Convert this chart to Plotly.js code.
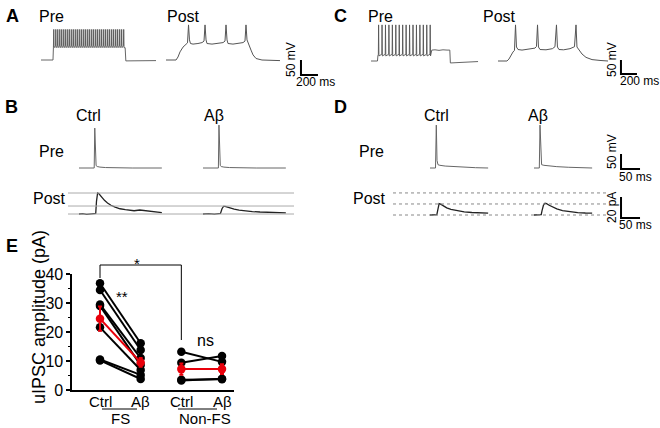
<!DOCTYPE html>
<html>
<head>
<meta charset="utf-8">
<script src="https://cdn.plot.ly/plotly-3.0.1.min.js"></script>
<style>html,body{margin:0;padding:0;background:#fff}#fig{width:660px;height:428px}</style>
</head>
<body>
<div id="fig"></div>
<script>
// ===== DATA =====
// A: FS pre cell train and post cell (ms, mV)
const aPreSpikes = [150, 174, 197, 221, 244, 268, 291, 315, 338, 362, 385, 409, 432, 456, 479, 503, 526, 550,
    573, 597, 620, 644, 667, 691, 714, 738, 761, 785, 808, 832, 855, 879, 902, 926, 949, 973];
const aPreHeadT = [0, 141, 146], aPreHeadV = [-70, -70, -29];
const aPreTailT = [990, 998, 1353], aPreTailV = [-29, -73, -72];
const aPrePeak = 32, aPreTrough = -29;
const aPostT = [0, 118, 141, 165, 200, 235, 253, 265, 276, 288, 318, 376, 424, 447, 459, 471, 482, 541, 612, 671, 694,
    706, 718, 729, 788, 859, 906, 929, 941, 953, 965, 982, 1000, 1024, 1059, 1129, 1341];
const aPostV = [-70, -70, -60, -43, -27, -18, -13, 47, -3, -15, -17, -15, -12, -7, 47, -3, -15, -17, -15, -12, -7,
    47, -3, -15, -17, -15, -12, -7, 47, -3, -13, -20, -37, -53, -65, -70, -72];

// C: non-FS pre cell train and post cell
const cPreSpikes = [95, 138, 181, 224, 267, 310, 353, 396, 439, 482, 525, 568, 611, 654, 697, 740];
const cPreHeadT = [0, 81, 86], cPreHeadV = [-70, -70, -52];
const cPreTailT = [760, 800, 850, 900, 950, 985, 992, 1100, 1338];
const cPreTailV = [-31, -30, -32, -30, -31, -31, -77, -75, -72];
const cPrePeak = 59, cPreTrough = -52;
const cPostT = [0, 112, 137, 162, 187, 206, 219, 231, 250, 300, 400, 462, 481, 494, 506, 525, 600, 680, 712, 731,
    743, 762, 820, 900, 956, 975, 987, 1012, 1050, 1100, 1175, 1275, 1375];
const cPostV = [-70, -70, -63, -49, -38, -32, 59, -20, -29, -31, -28, -24, -18, 59, -20, -29, -30, -26, -19, 59,
    -20, -29, -30, -26, -19, 59, -20, -31, -45, -57, -65, -68, -70];

// B: single spike pairs, FS (Pre mV, Post pA)
const bPreCtrlT = [0, 40, 41.5, 43, 45, 48, 55, 70, 100, 140, 218];
const bPreCtrlV = [-70, -70, 63, -40, -62, -65, -67, -68.5, -69.5, -70, -70];
const bPreAbT = [0, 40.5, 42, 43.5, 45.5, 48, 55, 70, 100, 140, 218];
const bPreAbV = [-70, -70, 73, -40, -62, -65, -67, -68.5, -69.5, -70, -70];
const bPostCtrlT = [0, 10, 20, 30, 40, 44, 46, 49, 52, 56, 61, 67, 75, 84, 95, 108, 122, 134, 145, 160, 172, 185, 200, 218];
const bPostCtrlI = [0, 0.3, -0.3, 0.2, 0, 0.5, 12, 20, 19.5, 17.5, 15.5, 13, 10.5, 8.3, 6.5, 5, 4.2, 3.4, 3.1, 3.8, 3.3, 2.5, 2, 1.3];
const bPostAbT = [0, 15, 30, 42, 46, 50, 54, 58, 64, 72, 82, 95, 110, 130, 150, 175, 200, 218];
const bPostAbI = [0, 0.3, -0.2, 0, 0.5, 5, 7.2, 7.3, 6.5, 5.6, 4.6, 3.7, 3, 2.3, 1.9, 1.5, 1.3, 1.1];
const bLevels = [0, 7.6, 20];

// D: single spike pairs, non-FS
const dPreCtrlT = [0, 14.5, 16.6, 18.5, 21, 26, 40, 60, 90, 120, 153];
const dPreCtrlV = [-70, -70, 73, -45, -59, -61, -63.5, -65.5, -67.5, -69, -70];
const dPreAbT = [0, 14, 15.8, 17.8, 20, 26, 40, 60, 90, 120, 153];
const dPreAbV = [-70, -70, 73, -45, -59, -61, -63.5, -65.5, -67.5, -69, -70];
const dPostCtrlT = [0, 8, 16, 18, 20, 22, 24, 28, 34, 44, 55, 70, 90, 110, 130, 153];
const dPostCtrlI = [0, 0.3, 0, 0.3, 4, 9, 10.8, 10.3, 8.8, 6.8, 5.4, 4.3, 3, 2.4, 2, 1.8];
const dPostAbT = [0, 8, 16, 19, 21, 25, 29, 33, 40, 48, 60, 75, 95, 115, 135, 153];
const dPostAbI = [0, 0.3, 0, 0.3, 4, 9.5, 11.2, 10.8, 9.3, 7.6, 5.8, 4.2, 3, 2.3, 1.9, 1.8];
const dLevels = [0, 10.5, 21];

// E: uIPSC amplitude (pA)
const groupX = [1, 2, 3, 4];
const groupTicks = ['Ctrl', 'Aβ', 'Ctrl', 'Aβ'];
const fsCtrl = [36.8, 34.5, 29.5, 29.0, 21.6, 10.5, 10.2];
const fsAb = [16.1, 13.8, 11.0, 8.6, 6.9, 5.2, 3.8];
const nonCtrl = [13.2, 9.4, 3.5, 3.3];
const nonAb = [9.7, 11.7, 3.7, 3.9];
const fsMean = [24.6, 9.5], fsSem = [4.2, 1.5];
const nonMean = [7.2, 7.2], nonSem = [1.9, 1.7];

// ===== LAYOUT HELPERS =====
const W = 660, H = 428;
const FONT = 'Liberation Sans, Arial, sans-serif';
const layout = {
    width: W, height: H, margin: {l: 0, r: 0, t: 0, b: 0},
    paper_bgcolor: '#fff', plot_bgcolor: 'rgba(0,0,0,0)',
    showlegend: false, font: {family: FONT, color: '#000'},
    shapes: [], annotations: []
};
const traces = [];

// hidden axis pair: box [l,r,t,b] px, data (t0,v0) sits at pixel (ox,oy), scale px per unit
function frame(i, box, org, sc) {
    const [l, r, t, b] = box, [ox, oy, t0, v0] = org, [sx, sy] = sc;
    const s = i === 1 ? '' : i;
    layout['xaxis' + s] = {visible: false, fixedrange: true, anchor: 'y' + s,
        domain: [l / W, r / W], range: [t0 + (l - ox) / sx, t0 + (r - ox) / sx]};
    layout['yaxis' + s] = {visible: false, fixedrange: true, anchor: 'x' + s,
        domain: [1 - b / H, 1 - t / H], range: [v0 - (b - oy) / sy, v0 + (oy - t) / sy]};
}

function line(i, x, y, color, width, dash) {
    const s = i === 1 ? '' : i;
    traces.push({x: x, y: y, xaxis: 'x' + s, yaxis: 'y' + s, mode: 'lines', hoverinfo: 'skip',
        line: {color: color, width: width, dash: dash || 'solid'}});
}

function spikeTrain(headT, headV, spikes, peak, trough, tailT, tailV) {
    const t = headT.slice(), v = headV.slice();
    spikes.forEach(s => { t.push(s - 3, s, s + 4); v.push(trough + 6, peak, trough); });
    return {t: t.concat(tailT), v: v.concat(tailV)};
}

function scaleBar(i, t, v, dt, dv) {
    line(i, [t, t, t + dt], [v + dv, v, v], '#000', 2);
}

function text(str, x, y, size, opts = {}) {
    layout.annotations.push({text: str, x: x / W, y: 1 - y / H, xref: 'paper', yref: 'paper',
        showarrow: false, xanchor: opts.anchor || 'center', yanchor: 'middle',
        textangle: opts.angle || 0, font: {family: FONT, size: size, color: '#000'}});
}

// ===== PANEL A =====
frame(1, [38, 160, 20, 72], [41, 60, 0, -70], [0.085, 0.3]);
frame(2, [160, 325, 18, 80], [166, 60, 0, -70], [0.085, 0.3]);
const aPre = spikeTrain(aPreHeadT, aPreHeadV, aPreSpikes, aPrePeak, aPreTrough, aPreTailT, aPreTailV);
line(1, aPre.t, aPre.v, '#555', 0.9);
line(2, aPostT, aPostV, '#555', 1);
scaleBar(2, 1588, -120, 200, 50);

// ===== PANEL C =====
frame(3, [368, 482, 20, 72], [371, 61, 0, -70], [0.08, 0.28]);
frame(4, [495, 645, 18, 80], [498, 61, 0, -70], [0.08, 0.28]);
const cPre = spikeTrain(cPreHeadT, cPreHeadV, cPreSpikes, cPrePeak, cPreTrough, cPreTailT, cPreTailV);
line(3, cPre.t, cPre.v, '#555', 0.9);
line(4, cPostT, cPostV, '#555', 1);
scaleBar(4, 1537, -116.4, 200, 50);

// ===== PANEL B =====
frame(5, [76, 166, 120, 172], [79, 168, 0, -70], [0.38, 0.3]);
frame(6, [200, 290, 120, 172], [203, 168, 0, -70], [0.38, 0.3]);
frame(7, [76, 166, 188, 221], [79, 214, 0, 0], [0.38, 1.05]);
frame(8, [200, 290, 188, 221], [203, 214, 0, 0], [0.38, 1.05]);
bLevels.forEach(lv => layout.shapes.push({type: 'line', xref: 'paper', yref: 'y7',
    x0: 68 / W, x1: 294 / W, y0: lv, y1: lv, line: {color: '#aaa', width: 1}}));
line(5, bPreCtrlT, bPreCtrlV, '#666', 1);
line(6, bPreAbT, bPreAbV, '#666', 1);
line(7, bPostCtrlT, bPostCtrlI, '#222', 1.3);
line(8, bPostAbT, bPostAbI, '#222', 1.3);

// ===== PANEL D =====
frame(9, [427, 492, 120, 172], [430, 168, 0, -70], [0.38, 0.3]);
frame(10, [531, 645, 120, 172], [534, 168, 0, -70], [0.38, 0.3]);
frame(11, [427, 492, 188, 221], [430, 215, 0, 0], [0.38, 1.05]);
frame(12, [531, 645, 188, 221], [534, 215, 0, 0], [0.38, 1.05]);
dLevels.forEach(lv => layout.shapes.push({type: 'line', xref: 'paper', yref: 'y11',
    x0: 393 / W, x1: 607 / W, y0: lv, y1: lv, line: {color: '#888', width: 1, dash: 'dot'}}));
line(9, dPreCtrlT, dPreCtrlV, '#666', 1);
line(10, dPreAbT, dPreAbV, '#666', 1);
line(11, dPostCtrlT, dPostCtrlI, '#222', 1.3);
line(12, dPostAbT, dPostAbI, '#222', 1.3);
scaleBar(10, 229, -73.3, 50, 50);
scaleBar(12, 229, -2.9, 50, 20);

// ===== PANEL E =====
layout.xaxis13 = {domain: [72 / W, 234 / W], range: [0.3115, 4.295], anchor: 'y13', fixedrange: true,
    showline: true, linecolor: '#000', linewidth: 1.6, ticks: '', showgrid: false, zeroline: false,
    showticklabels: false};
layout.yaxis13 = {domain: [1 - 390 / H, 1 - 274 / H], range: [0, 40], anchor: 'x13', fixedrange: true,
    showline: true, linecolor: '#000', linewidth: 1.6, ticks: 'outside', ticklen: 4, tickwidth: 1.6,
    tickcolor: '#000', dtick: 10, showgrid: false, zeroline: false,
    minor: {ticks: 'outside', ticklen: 2, tickwidth: 1, dtick: 5, tickcolor: '#000'},
    tickfont: {family: FONT, size: 16, color: '#000'}};
// category labels sit close under the axis, as in the figure
groupX.forEach((gx, k) => layout.annotations.push({text: groupTicks[k], x: gx, y: 1 - 401 / H,
    xref: 'x13', yref: 'paper', showarrow: false, yanchor: 'middle',
    font: {family: FONT, size: 15, color: '#000'}}));

function pairs(xs, a, b) {
    const x = [], y = [];
    a.forEach((v, k) => { x.push(xs[0], xs[1], null); y.push(v, b[k], null); });
    return {x: x, y: y};
}
[pairs(groupX.slice(0, 2), fsCtrl, fsAb), pairs(groupX.slice(2), nonCtrl, nonAb)].forEach(p => {
    traces.push({x: p.x, y: p.y, xaxis: 'x13', yaxis: 'y13', mode: 'lines+markers', hoverinfo: 'skip',
        cliponaxis: false, line: {color: '#000', width: 2}, marker: {color: '#000', size: 8.5}});
});
[[groupX.slice(0, 2), fsMean, fsSem], [groupX.slice(2), nonMean, nonSem]].forEach(([x, m, s]) => {
    traces.push({x: x, y: m, xaxis: 'x13', yaxis: 'y13', mode: 'lines+markers', hoverinfo: 'skip',
        cliponaxis: false, line: {color: '#e8000b', width: 2}, marker: {color: '#e8000b', size: 8.5},
        error_y: {type: 'data', array: s, color: '#e8000b', thickness: 2, width: 2}});
});

// significance bracket and group underlines
const ink = {color: '#000', width: 1};
layout.shapes.push(
    {type: 'line', xref: 'x13', yref: 'paper', x0: 1, x1: 1, y0: 1 - 265 / H, y1: 1 - 278 / H, line: ink},
    {type: 'line', xref: 'x13', yref: 'paper', x0: 1, x1: 3, y0: 1 - 265 / H, y1: 1 - 265 / H, line: ink},
    {type: 'line', xref: 'x13', yref: 'paper', x0: 3, x1: 3, y0: 1 - 265 / H, y1: 1 - 340 / H, line: ink},
    {type: 'line', xref: 'paper', yref: 'paper', x0: 102 / W, x1: 137 / W, y0: 1 - 409 / H, y1: 1 - 409 / H, line: ink},
    {type: 'line', xref: 'paper', yref: 'paper', x0: 178 / W, x1: 217 / W, y0: 1 - 409 / H, y1: 1 - 409 / H, line: ink}
);

// ===== TEXT =====
const bold = s => '<b>' + s + '</b>';
text(bold('A'), 12, 16, 18); text(bold('C'), 340, 16, 18);
text(bold('B'), 11, 107, 18); text(bold('D'), 340, 107, 18);
text(bold('E'), 12, 246, 18);
text('Pre', 52, 16, 16); text('Post', 183, 16, 16);
text('Pre', 380, 16, 16); text('Post', 499, 16, 16);
text('Ctrl', 88, 115, 16); text('Aβ', 214, 115, 16);
text('Pre', 52, 151, 16); text('Post', 49, 198, 16);
text('Ctrl', 436, 115, 16); text('Aβ', 538, 115, 16);
text('Pre', 371, 151, 16); text('Post', 370, 198, 16);
text('50 mV', 291, 60, 12, {angle: -90}); text('200 ms', 315, 82, 12);
text('50 mV', 612, 60, 12, {angle: -90}); text('200 ms', 639, 81, 12);
text('50 mV', 612, 152, 12, {angle: -90}); text('50 ms', 635, 177, 12);
text('20 pA', 612, 208, 12, {angle: -90}); text('50 ms', 635, 225, 12);
text('uIPSC amplitude (pA)', 39, 317, 18, {angle: -90});
text('*', 137, 263, 15); text('**', 122, 296, 15); text('ns', 205, 340, 16);
text('FS', 120, 418, 15); text('Non-FS', 205, 418, 15);

Plotly.newPlot('fig', traces, layout, {displayModeBar: false, staticPlot: true});
</script>
</body>
</html>
